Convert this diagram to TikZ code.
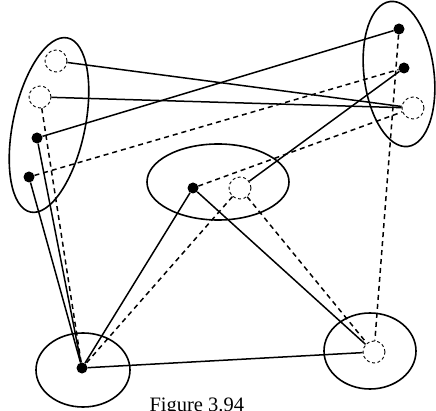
\documentclass[tikz,border=0pt]{standalone}
\usepackage{fontspec}
\setmainfont{Liberation Serif}
\usetikzlibrary{calc}
\tikzset{
  wire/.style       = {line width=1.5pt},
  dashedwire/.style = {line width=1.5pt, dash pattern=on 5pt off 4pt},
  blob/.style       = {line width=1.6pt},
  full dot/.style   = {circle, fill=black, inner sep=0pt, minimum size=11pt},
  open dot/.style   = {circle, draw, line width=0.9pt, dash pattern=on 3pt off 2.5pt,
                       inner sep=0pt, minimum size=22pt},
}

\begin{document}
\begin{tikzpicture}[x=1pt,y=-1pt]
  \useasboundingbox (0,0) rectangle (436,411);

  % ---- the five groups -----------------------------------------------------
  \draw[blob,rotate around={78:(49,125)}]  (49,125)  ellipse (89 and 36);
  \draw[blob,rotate around={97:(399,74)}]  (399,74)  ellipse (73 and 35);
  \draw[blob] (218,182) ellipse (71 and 38);
  \draw[blob] (83,370)  ellipse (47 and 37);
  \draw[blob] (370,351) ellipse (46 and 38);

  % ---- vertices ------------------------------------------------------------
  \node[open dot] (a1) at (56,61)   {};
  \node[open dot] (a2) at (40,97)   {};
  \node[full dot] (a3) at (37,138)  {};
  \node[full dot] (a4) at (29,177)  {};
  \node[full dot] (b1) at (399,29)  {};
  \node[full dot] (b2) at (404,68)  {};
  \node[open dot] (b3) at (413,108) {};
  \node[full dot] (c1) at (193,188) {};
  \node[open dot] (c2) at (240,188) {};
  \node[full dot] (d1) at (82,368)  {};
  \node[open dot] (e1) at (374,352) {};

  % ---- solid edges ---------------------------------------------------------
  \draw[wire] (a1) -- (b3);
  \draw[wire] (a2) -- (b3);
  \draw[wire] (a3) -- (b1);
  \draw[wire] (a3) -- (d1);
  \draw[wire] (a4) -- (d1);
  \draw[wire] (d1) -- (c1);
  \draw[wire] (d1) -- (e1);
  \draw[wire] (c1) -- (e1);
  \draw[wire] (c2) -- (b2);

  % ---- dashed edges --------------------------------------------------------
  \draw[dashedwire] (a4) -- (b2);
  \draw[dashedwire] (a2) -- (d1);
  \draw[dashedwire] (c1) -- (b3);
  \draw[dashedwire] (c2) -- (d1);
  \draw[dashedwire] (c2) -- (e1);
  \draw[dashedwire] (b1) -- (e1);

  \node[font=\fontsize{20.5}{24}\selectfont, anchor=base west] (cap) at (146,411) {Figure 3.94};
\end{tikzpicture}
\end{document}
